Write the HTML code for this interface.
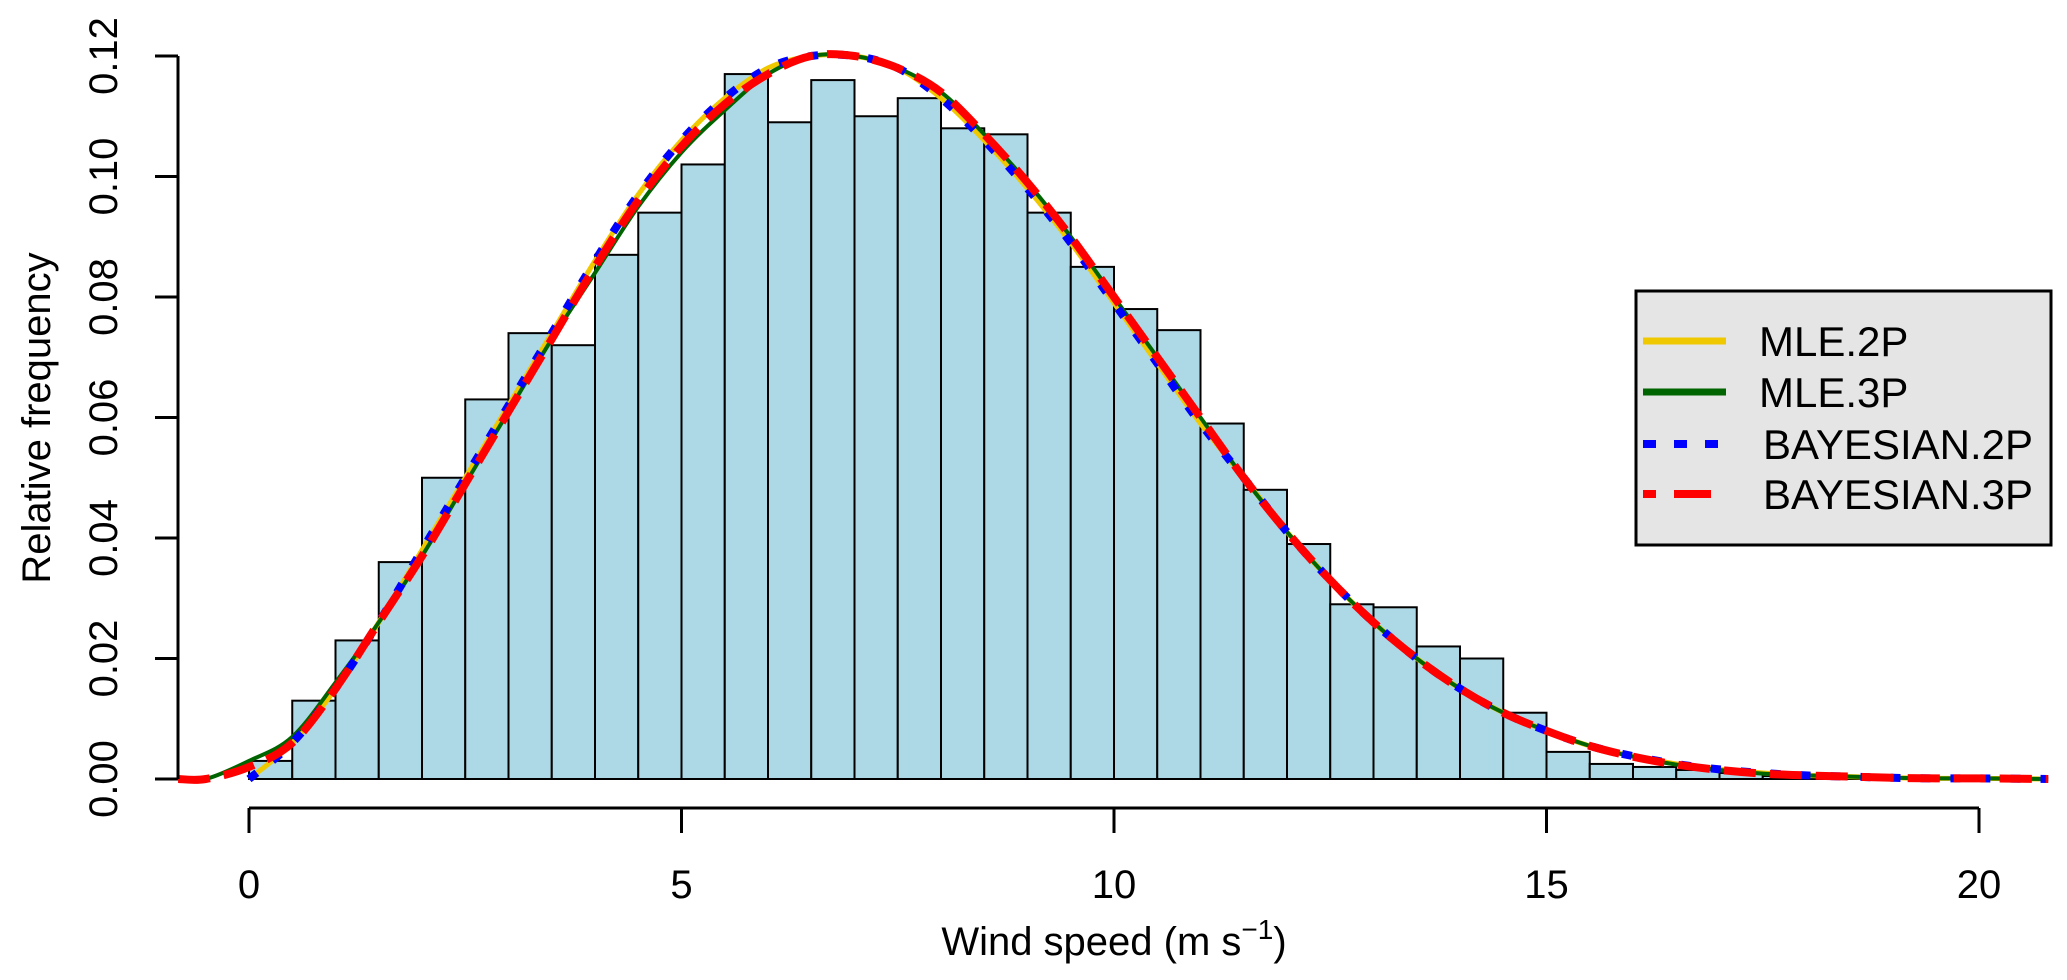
<!DOCTYPE html>
<html><head><meta charset="utf-8">
<style>
html,body{margin:0;padding:0;background:#fff;}
svg{display:block;font-family:"Liberation Sans",sans-serif;}
</style></head>
<body>
<svg id="chart" width="2067" height="980" viewBox="0 0 2067 980" xmlns="http://www.w3.org/2000/svg">
<g id="bars"></g>
<g id="curves"></g>
<g id="axes"></g>
<text x="0" y="0" font-size="40" text-anchor="middle" transform="translate(50,418) rotate(-90)">Relative frequency</text>
<text x="1114" y="955" font-size="40" text-anchor="middle">Wind speed (m s<tspan dy="-16" font-size="28">−1</tspan><tspan dy="16">)</tspan></text>
<g>
<rect x="1636" y="291" width="415" height="254" fill="#e5e5e5" stroke="#000" stroke-width="3"/>
<line x1="1643" y1="341" x2="1726" y2="341" stroke="#f0c800" stroke-width="7"/>
<text x="1759" y="356" font-size="42">MLE.2P</text>
<line x1="1643" y1="392" x2="1726" y2="392" stroke="#006400" stroke-width="7"/>
<text x="1759" y="407" font-size="42">MLE.3P</text>
<line x1="1643" y1="444" x2="1726" y2="444" stroke="#0000ff" stroke-width="8" stroke-dasharray="13 18"/>
<text x="1763" y="459" font-size="42">BAYESIAN.2P</text>
<line x1="1643" y1="494" x2="1713" y2="494" stroke="#ff0000" stroke-width="8" stroke-dasharray="13 18 37 18"/>
<text x="1763" y="509" font-size="42">BAYESIAN.3P</text>
</g>
</svg>
<script>
const binStarts=[0,0.5,1,1.5,2,2.5,3,3.5,4,4.5,5,5.5,6,6.5,7,7.5,8,8.5,9,9.5,10,10.5,11,11.5,12,12.5,13,13.5,14,14.5,15,15.5,16,16.5,17,17.5,18,18.5,19,19.5,20];
const binFreq=[0.003,0.013,0.023,0.036,0.050,0.063,0.074,0.072,0.087,0.094,0.102,0.117,0.109,0.116,0.110,0.113,0.108,0.107,0.094,0.085,0.078,0.0745,0.059,0.048,0.039,0.029,0.0285,0.022,0.020,0.011,0.0045,0.0025,0.002,0.0015,0.001,0.0005,0.0004,0.0002,0.0002,0.0001,0.0001];
const curveX2=[0,0.5,1,1.5,2,2.5,3,3.5,4,4.5,5,5.5,6,6.5,7,7.5,8,8.5,9,9.5,10,10.5,11,11.5,12,12.5,13,13.5,14,14.5,15,15.5,16,16.5,17,17.5,18,18.5,19,19.5,20,20.8];
const mle2p=[0,0.006,0.015,0.026,0.038,0.050,0.062,0.074,0.086,0.097,0.106,0.113,0.118,0.120,0.120,0.118,0.113,0.106,0.098,0.089,0.079,0.069,0.059,0.050,0.041,0.033,0.026,0.020,0.015,0.011,0.008,0.0055,0.0038,0.0025,0.0016,0.001,0.0006,0.0004,0.0002,0.0001,0.0001,0];
const bayes2p=[0,0.006,0.015,0.026,0.038,0.050,0.062,0.074,0.086,0.097,0.106,0.113,0.118,0.120,0.120,0.118,0.113,0.106,0.098,0.089,0.079,0.069,0.059,0.050,0.041,0.033,0.026,0.020,0.015,0.011,0.008,0.0055,0.0038,0.0025,0.0016,0.001,0.0006,0.0004,0.0002,0.0001,0.0001,0];
const curveX3=[-0.82,-0.5,0,0.5,1,1.5,2,2.5,3,3.5,4,4.5,5,5.5,6,6.5,7,7.5,8,8.5,9,9.5,10,10.5,11,11.5,12,12.5,13,13.5,14,14.5,15,15.5,16,16.5,17,17.5,18,18.5,19,19.5,20,20.8];
const mle3p=[0,0,0.003,0.007,0.016,0.026,0.037,0.049,0.061,0.073,0.084,0.095,0.104,0.111,0.117,0.120,0.120,0.118,0.114,0.107,0.099,0.090,0.080,0.070,0.060,0.050,0.041,0.033,0.026,0.020,0.015,0.011,0.008,0.0055,0.0037,0.0024,0.0015,0.0009,0.0006,0.0004,0.0002,0.0001,0.0001,0];
const bayes3p=[0,0,0.002,0.006,0.015,0.026,0.037,0.049,0.061,0.073,0.085,0.096,0.105,0.112,0.117,0.120,0.120,0.118,0.114,0.107,0.099,0.090,0.080,0.070,0.060,0.050,0.041,0.033,0.026,0.020,0.015,0.011,0.008,0.0055,0.0037,0.0024,0.0015,0.0009,0.0006,0.0004,0.0002,0.0001,0.0001,0];
const xTicks=[0,5,10,15,20];
const yTicks=[0,0.02,0.04,0.06,0.08,0.10,0.12];
const yTickLabels=["0.00","0.02","0.04","0.06","0.08","0.10","0.12"];

const NS="http://www.w3.org/2000/svg";
const X0=249,X20=1979;
function sx(v){return X0+(X20-X0)*v/20;}
function sy(v){return 779-(779-56)*v/0.12;}
function mk(tag,attrs,parent){const e=document.createElementNS(NS,tag);for(const k in attrs)e.setAttribute(k,attrs[k]);parent.appendChild(e);return e;}

const bars=document.getElementById('bars');
binStarts.forEach((b,i)=>{
  const x1=sx(b),x2=sx(b+0.5),y=sy(binFreq[i]);
  const r=mk('rect',{x:x1,y:y,width:x2-x1,height:779-y,fill:'#add8e6',stroke:'#000','stroke-width':2},bars);
  
  
});

function smoothPath(xs,ys){
  const p=xs.map((x,i)=>[sx(x),sy(ys[i])]);
  let d='M'+p[0][0]+','+p[0][1];
  for(let i=0;i<p.length-1;i++){
    const p0=p[Math.max(0,i-1)],p1=p[i],p2=p[i+1],p3=p[Math.min(p.length-1,i+2)];
    const c1=[p1[0]+(p2[0]-p0[0])/6,p1[1]+(p2[1]-p0[1])/6];
    const c2=[p2[0]-(p3[0]-p1[0])/6,p2[1]-(p3[1]-p1[1])/6];
    d+=' C'+c1[0]+','+c1[1]+' '+c2[0]+','+c2[1]+' '+p2[0]+','+p2[1];
  }
  return d;
}
const curves=document.getElementById('curves');
const c1=mk('path',{d:smoothPath(curveX2,mle2p),fill:'none',stroke:'#f0c800','stroke-width':5},curves);


const c2=mk('path',{d:smoothPath(curveX3,mle3p),fill:'none',stroke:'#006400','stroke-width':4},curves);


const c3=mk('path',{d:smoothPath(curveX2,bayes2p),fill:'none',stroke:'#0000ff','stroke-width':8,'stroke-dasharray':'10 20'},curves);


const c4=mk('path',{d:smoothPath(curveX3,bayes3p),fill:'none',stroke:'#ff0000','stroke-width':8,'stroke-dasharray':'32 14'},curves);



const axes=document.getElementById('axes');
const ya=mk('line',{x1:178,y1:sy(0.12),x2:178,y2:sy(0),stroke:'#000','stroke-width':3},axes);


yTicks.forEach((v,i)=>{
  const t=mk('line',{x1:155,y1:sy(v),x2:178,y2:sy(v),stroke:'#000','stroke-width':3},axes);
  
  
  const l=mk('text',{x:0,y:0,'font-size':40,'text-anchor':'middle',transform:'translate(117,'+sy(v)+') rotate(-90)'},axes);
  l.textContent=yTickLabels[i];
  
  
});
const xa=mk('line',{x1:sx(0),y1:808,x2:sx(20),y2:808,stroke:'#000','stroke-width':3},axes);


xTicks.forEach(v=>{
  const t=mk('line',{x1:sx(v),y1:808,x2:sx(v),y2:833,stroke:'#000','stroke-width':3},axes);
  
  
  const l=mk('text',{x:sx(v),y:898,'font-size':40,'text-anchor':'middle'},axes);
  l.textContent=String(v);
  
  
});
</script>
</body></html>
